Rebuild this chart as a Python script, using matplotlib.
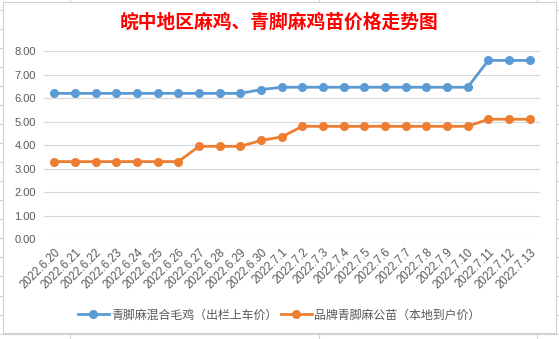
import matplotlib.pyplot as plt
from matplotlib.patches import Rectangle
from matplotlib.lines import Line2D

plt.rcParams['font.family'] = ['Liberation Sans', 'Noto Sans CJK SC', 'DejaVu Sans']

dates = ['2022.6.20', '2022.6.21', '2022.6.22', '2022.6.23', '2022.6.24', '2022.6.25',
         '2022.6.26', '2022.6.27', '2022.6.28', '2022.6.29', '2022.6.30', '2022.7.1',
         '2022.7.2', '2022.7.3', '2022.7.4', '2022.7.5', '2022.7.6', '2022.7.7',
         '2022.7.8', '2022.7.9', '2022.7.10', '2022.7.11', '2022.7.12', '2022.7.13']
# 青脚麻混合毛鸡（出栏上车价）
mao_ji = [6.2, 6.2, 6.2, 6.2, 6.2, 6.2, 6.2, 6.2, 6.2, 6.2, 6.36, 6.46,
          6.46, 6.46, 6.46, 6.46, 6.46, 6.46, 6.46, 6.46, 6.46, 7.6, 7.6, 7.6]
# 品牌青脚麻公苗（本地到户价）
gong_miao = [3.3, 3.3, 3.3, 3.3, 3.3, 3.3, 3.3, 3.95, 3.95, 3.95, 4.2, 4.35,
             4.8, 4.8, 4.8, 4.8, 4.8, 4.8, 4.8, 4.8, 4.8, 5.1, 5.1, 5.1]
yticks = [0, 1, 2, 3, 4, 5, 6, 7, 8]

W, H = 559, 339
fig = plt.figure(figsize=(W / 100, H / 100), dpi=100)

# excel sheet grid peeking out behind the chart
grid_c = '#d4d4d4'
for yy in [10, 29, 48, 67, 86, 105, 124, 143, 162, 181, 200, 219, 238, 257, 276, 296, 315, 334]:
    fig.add_artist(Line2D([0, 1], [1 - yy / H, 1 - yy / H], color=grid_c, lw=0.8, zorder=0))
for xx in [70, 319, 537]:
    fig.add_artist(Line2D([xx / W, xx / W], [0, 1], color=grid_c, lw=0.8, zorder=0))
fig.add_artist(Rectangle((2.5 / W, 1 - 333 / H), 553 / W, 331 / H, facecolor='white',
                         edgecolor='#d0d0d0', lw=0.8, zorder=1))

ax = fig.add_axes([44 / W, 1 - 239.3 / H, 496 / W, (239.3 - 51) / H], zorder=2)
ax.patch.set_alpha(0)
x = list(range(len(dates)))
ax.plot(x, mao_ji, color='#5b9bd5', lw=2, marker='o', ms=5.5,
        label='青脚麻混合毛鸡（出栏上车价）')
ax.plot(x, gong_miao, color='#ed7d31', lw=2, marker='o', ms=5.5,
        label='品牌青脚麻公苗（本地到户价）')

ax.set_xlim(-0.5, len(dates) - 0.5)
ax.set_ylim(0, 8)
ax.set_yticks(yticks)
ax.set_yticklabels(['%.2f' % v for v in yticks], color='#595959', fontsize=8)
ax.set_xticks(x)
ax.set_xticklabels(dates, rotation=45, ha='right', rotation_mode='anchor',
                   color='#595959', fontsize=8.3)
ax.tick_params(axis='both', length=0, pad=6)
ax.tick_params(axis='x', pad=5)
ax.grid(axis='y', color='#d9d9d9', lw=0.8)
ax.set_axisbelow(True)
for s in ax.spines.values():
    s.set_visible(False)

fig.text(279 / W, 1 - 22 / H, '皖中地区麻鸡、青脚麻鸡苗价格走势图', color='red',
         fontsize=13.5, fontweight='bold', ha='center', va='center',
         family=['Noto Sans CJK SC', 'DejaVu Sans'], zorder=3)

leg = fig.legend(loc='center', bbox_to_anchor=(279 / W, 1 - 315 / H), ncol=2,
                 frameon=False, fontsize=8.6, handlelength=2.6, columnspacing=0.3,
                 handletextpad=0.2, prop={'family': ['Noto Sans CJK SC'], 'size': 8.6})
for t in leg.get_texts():
    t.set_color('#595959')
leg.set_zorder(3)

fig.savefig('out.png', dpi=100)
